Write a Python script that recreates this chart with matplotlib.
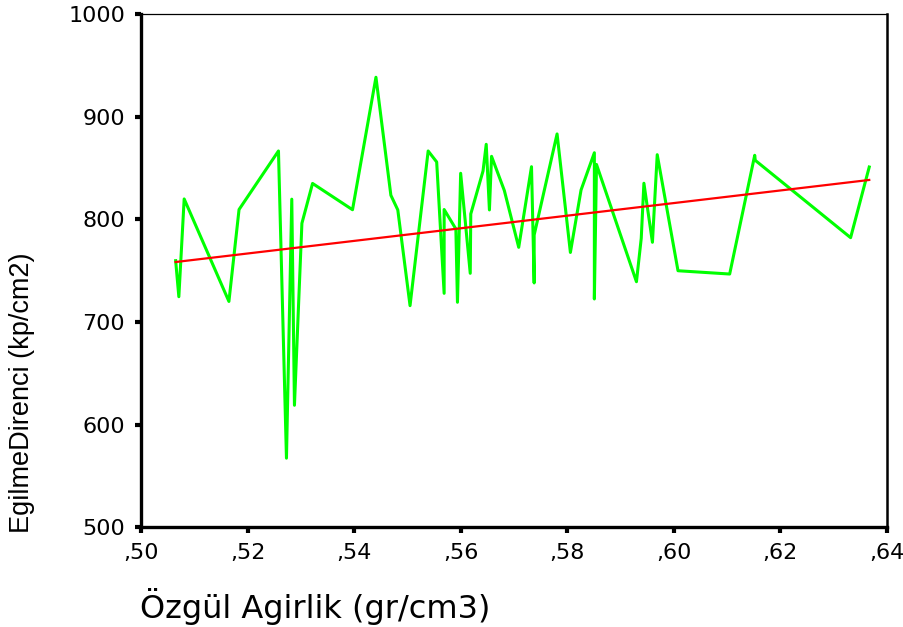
import matplotlib
matplotlib.use('Agg')
import matplotlib.pyplot as plt
from matplotlib.ticker import FuncFormatter

# Özgül ağırlık (gr/cm3) - egilme direnci (kp/cm2)
ozgul = [0.5065, 0.5071, 0.5081, 0.5165, 0.5184, 0.5258, 0.5273, 0.5283, 0.5288, 0.5302,
         0.5322, 0.5397, 0.5441, 0.5469, 0.5482, 0.5505, 0.5539, 0.5555, 0.5569, 0.5569,
         0.5591, 0.5594, 0.5600, 0.5618, 0.5619, 0.5642, 0.5648, 0.5654, 0.5658, 0.5682,
         0.5709, 0.5733, 0.5738, 0.5738, 0.5781, 0.5806, 0.5826, 0.5851, 0.5851, 0.5855,
         0.5930, 0.5939, 0.5944, 0.5960, 0.5969, 0.6008, 0.6105, 0.6152, 0.6153, 0.6332,
         0.6367]
direnc = [759.8, 724.7, 819.9, 720.1, 809.6, 866.6, 567.5, 819.7, 619.0, 796.2,
          835.0, 809.4, 938.4, 823.5, 809.2, 716.0, 866.6, 855.9, 728.0, 809.6,
          790.7, 719.3, 844.9, 747.5, 805.3, 847.1, 873.1, 809.2, 861.4, 828.1,
          772.8, 851.3, 738.1, 784.8, 883.2, 767.8, 828.6, 864.9, 722.5, 853.5,
          739.3, 781.6, 835.2, 777.7, 863.0, 750.0, 746.8, 862.4, 857.5, 782.2,
          851.0]

# fit line end points as seen in the chart
fit_x = [0.5065, 0.6367]
fit_y = [758.5, 838.4]

xticks = [0.50, 0.52, 0.54, 0.56, 0.58, 0.60, 0.62, 0.64]
yticks = [500, 600, 700, 800, 900, 1000]

fig = plt.figure(figsize=(9.04, 6.27), dpi=100)
ax = fig.add_axes([0.156, 0.1587, 0.825, 0.819])

ax.plot(ozgul, direnc, color='#00ff00', linewidth=2.2)
ax.plot(fit_x, fit_y, color='#ff0000', linewidth=1.6)

ax.set_xlim(0.50, 0.64)
ax.set_ylim(500, 1000)
ax.set_xticks(xticks)
ax.set_yticks(yticks)
ax.xaxis.set_major_formatter(FuncFormatter(lambda v, p: ('%.2f' % v)[1:].replace('.', ',')))

for side in ['left', 'bottom']:
    ax.spines[side].set_linewidth(2.4)
ax.spines['right'].set_linewidth(1.8)
ax.spines['top'].set_linewidth(0.9)

ax.tick_params(direction='out', length=4.5, width=3, pad=7, labelsize=16)
for lab in ax.get_xticklabels() + ax.get_yticklabels():
    lab.set_family('DejaVu Sans')

fig.text(0.155, 0.032, 'Özgül Agirlik (gr/cm3)', ha='left', va='center',
         fontsize=23, family='DejaVu Sans')
fig.text(0.024, 0.374, 'EgilmeDirenci (kp/cm2)', ha='center', va='center',
         rotation=90, fontsize=19.5, family='Liberation Sans')

fig.savefig('out.png', dpi=100)
